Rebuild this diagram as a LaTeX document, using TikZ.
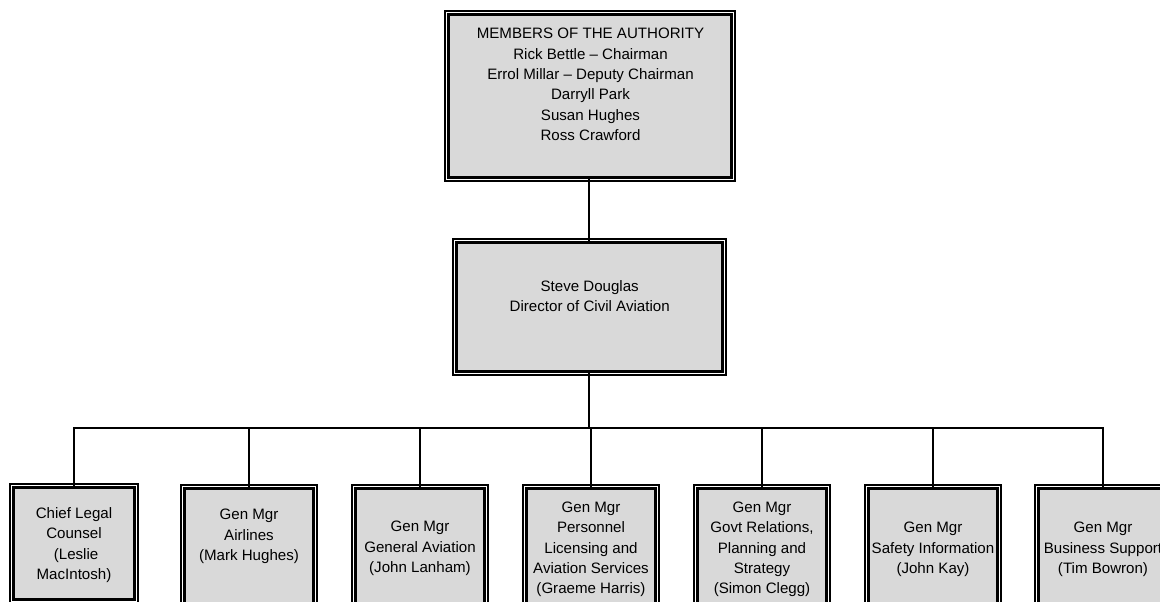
\documentclass[tikz,border=0pt]{standalone}
\usepackage{fontspec}
\setmainfont{Liberation Sans}
\definecolor{boxfill}{RGB}{217,217,217}
\begin{document}
\begin{tikzpicture}[x=1pt,y=-1pt,
  box/.style={draw=black, fill=boxfill, line width=2.2pt, double=white, double distance=1.2pt, inner sep=0pt, outer sep=0pt},
  lowbox/.style={box, minimum width=132.4pt, minimum height=159.4pt},
  txt/.style={align=center, inner sep=0pt, text=black, font=\fontsize{15.1}{20.4}\selectfont},
  link/.style={draw=black, line width=1.25pt}]
\useasboundingbox (0,0) rectangle (1160,602);
% boxes
\node[box, minimum width=286.4pt, minimum height=166.4pt] (auth) at (590,96) {};
\node[box, minimum width=269.4pt, minimum height=132.4pt] (dca) at (589.5,307) {};
\node[box, minimum width=124.4pt, minimum height=115.4pt] (b1) at (74,543.5) {};
\node[lowbox] (b2) at (249,566.5) {};
\node[lowbox] (b3) at (420,566.5) {};
\node[lowbox] (b4) at (591,566.5) {};
\node[lowbox] (b5) at (762,566.5) {};
\node[lowbox] (b6) at (933,566.5) {};
\node[lowbox] (b7) at (1103,566.5) {};
% connectors
\coordinate (bar) at (589,428);
\draw[link] (auth.south -| bar) -- (dca.north -| bar);
\draw[link] (dca.south -| bar) -- (bar);
\foreach \b in {b1,b2,b3,b4,b5,b6,b7} \draw[link] (\b.north) |- (bar);
% texts
\node[txt] (t0) at (590.5,85.7) {\strut MEMBERS OF THE AUTHORITY\\\strut Rick Bettle – Chairman\\\strut Errol Millar – Deputy Chairman\\\strut Darryll Park\\\strut Susan Hughes\\\strut Ross Crawford};
\node[txt] (td) at (589.7,297.3) {\strut Steve Douglas\\\strut Director of Civil Aviation};
\node[txt] (t1) at (74,545) {\strut Chief Legal\\\strut Counsel\\\strut\hspace*{0.278em}(Leslie\\\strut MacIntosh)};
\node[txt] (t2) at (249,536) {\strut Gen Mgr\\\strut Airlines\\\strut (Mark Hughes)};
\node[txt] (t3) at (420,548) {\strut Gen Mgr\\\strut General Aviation\\\strut (John Lanham)};
\node[txt] (t4) at (591,549) {\strut Gen Mgr\\\strut Personnel\\\strut Licensing and\\\strut Aviation Services\\\strut (Graeme Harris)};
\node[txt] (t5) at (762,549) {\strut Gen Mgr\\\strut Govt Relations,\\\strut Planning and\\\strut Strategy\\\strut (Simon Clegg)};
\node[txt] (t6) at (933,549) {\strut Gen Mgr\\\strut Safety Information\\\strut (John Kay)};
\node[txt] (t7) at (1103,549) {\strut Gen Mgr\\\strut Business Support\\\strut (Tim Bowron)};
\end{tikzpicture}
\end{document}
